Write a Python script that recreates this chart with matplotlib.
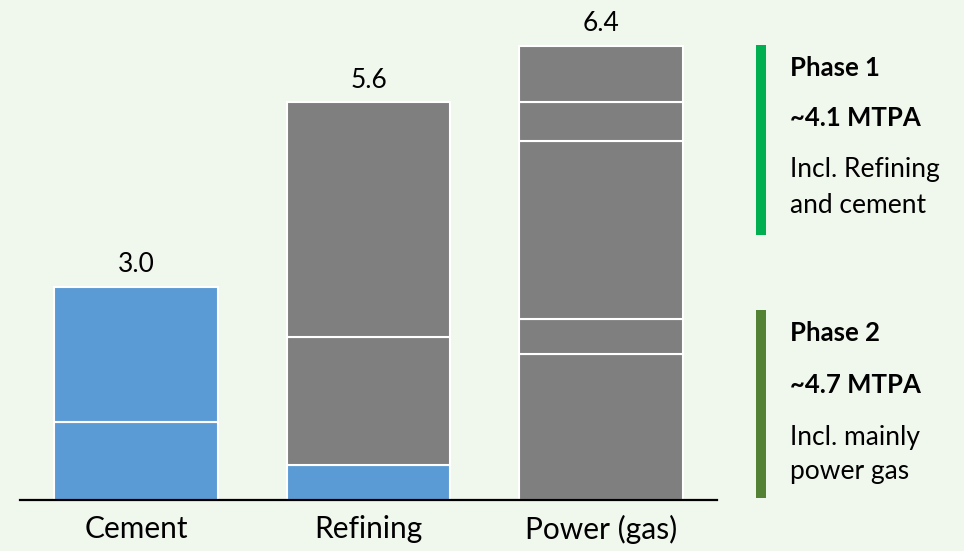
import numpy as np
import matplotlib.pyplot as plt
from matplotlib.patches import Rectangle

plt.rcParams['font.family'] = ['Lato', 'DejaVu Sans']

# Segments per sector, stacked from the bottom (MTPA)
categories = ["Cement", "Refining", "Power (gas)"]
cement_parts = [1.1, 1.9]
refining_parts = [0.5, 1.8, 3.3]
power_parts = [2.05, 0.5, 2.5, 0.55, 0.8]
cement_colors = ["#5B9BD5", "#5B9BD5"]
refining_colors = ["#5B9BD5", "#7F7F7F", "#7F7F7F"]
power_colors = ["#7F7F7F"] * 5

phase_titles = ["Phase 1", "Phase 2"]
phase_volumes = ["~4.1 MTPA", "~4.7 MTPA"]
phase_notes = [["Incl. Refining", "and cement"], ["Incl. mainly", "power gas"]]
phase_colors = ["#00B050", "#548235"]

BG = "#F0F7EC"
W, H = 964, 551

fig = plt.figure(figsize=(W / 100, H / 100), dpi=100, facecolor=BG)
ax = fig.add_axes([20 / W, (H - 500) / H, 697 / W, 497 / H])
ax.set_facecolor(BG)

stacks = [(cement_parts, cement_colors),
          (refining_parts, refining_colors),
          (power_parts, power_colors)]

for i, (parts, cols) in enumerate(stacks):
    bottom = 0.0
    for v, c in zip(parts, cols):
        ax.bar(i, v, bottom=bottom, width=0.705, color=c,
               edgecolor="white", linewidth=1.5)
        bottom += v
    ax.annotate(f"{sum(parts):.1f}", (i, bottom), xytext=(0, 7),
                textcoords="offset points", ha="center", va="bottom",
                fontsize=19, color="black")

ax.set_xlim(-0.5, 2.5)
ax.set_ylim(0, 7.0)
ax.set_xticks(range(len(categories)))
ax.set_xticklabels(categories, fontsize=21.5)
ax.tick_params(axis="x", length=0, pad=11)
ax.set_yticks([])
for s in ["top", "right", "left"]:
    ax.spines[s].set_visible(False)
ax.spines["bottom"].set_linewidth(1.6)

# Phase call-outs on the right
bar_spans = [(45, 235), (310, 498)]
text_rows = [(68, 118, 170, 205), (333, 385, 437, 471)]
for k in range(2):
    y0, y1 = bar_spans[k]
    fig.add_artist(Rectangle((756 / W, (H - y1) / H), 10 / W, (y1 - y0) / H,
                             transform=fig.transFigure, color=phase_colors[k],
                             lw=0))
    r1, r2, r3, r4 = text_rows[k]
    fig.text(790 / W, (H - r1) / H, phase_titles[k], fontsize=18.5,
             fontweight="bold", va="center", ha="left")
    fig.text(790 / W, (H - r2) / H, phase_volumes[k], fontsize=18.5,
             fontweight="bold", va="center", ha="left")
    for line, r in zip(phase_notes[k], (r3, r4)):
        fig.text(790 / W, (H - r) / H, line, fontsize=19,
                 va="center", ha="left")

fig.savefig("out.png", dpi=100, facecolor=BG)
